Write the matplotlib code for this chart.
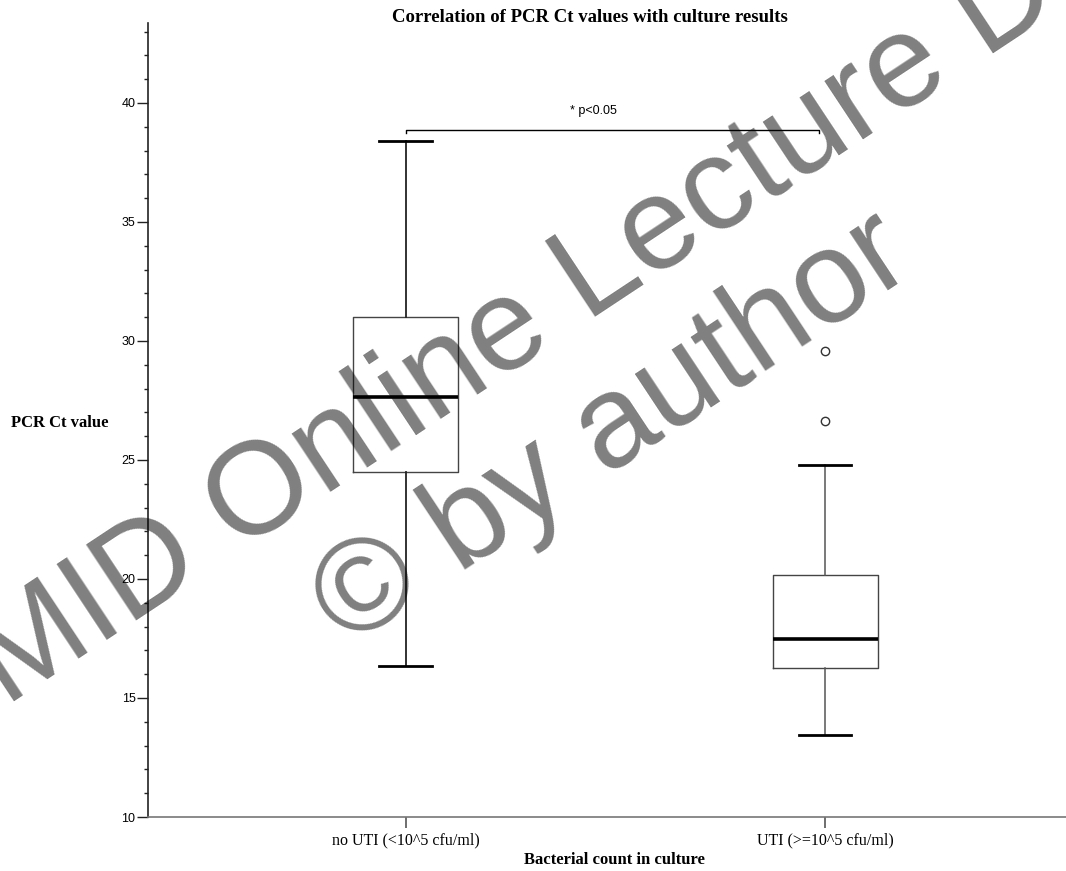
import numpy as np
import matplotlib
matplotlib.use("Agg")
import matplotlib.pyplot as plt
from matplotlib.ticker import MultipleLocator

# values
groups = ["no UTI (<10^5 cfu/ml)", "UTI (>=10^5 cfu/ml)"]
whis_lo = [16.35, 13.45]
q1 = [24.5, 16.25]
med = [27.65, 17.48]
q3 = [31.0, 20.15]
whis_hi = [38.4, 24.8]
outliers = [[], [29.6, 26.65]]
y_ticks = [10, 15, 20, 25, 30, 35, 40]

fig = plt.figure(figsize=(10.66, 8.71), dpi=100)
W, H = 1066.0, 871.0
ax = fig.add_axes([148 / W, 1 - 817 / H, 1 - 148 / W, (817 - 23) / H])

stats = []
for i in range(len(groups)):
    stats.append(dict(label=groups[i], whislo=whis_lo[i], q1=q1[i], med=med[i],
                      q3=q3[i], whishi=whis_hi[i], fliers=outliers[i]))

pos = [1, 2]
art = ax.bxp(stats, positions=pos, widths=0.25, showfliers=True,
             boxprops=dict(color="#444444", linewidth=1.0),
             medianprops=dict(color="black", linewidth=2.6),
             whiskerprops=dict(color="#222222", linewidth=1.3),
             capprops=dict(color="black", linewidth=2.0),
             flierprops=dict(marker="o", markersize=6, markerfacecolor="white",
                             markeredgecolor="#333333", markeredgewidth=1.0),
             capwidths=0.125, zorder=3)
# second group whiskers look thinner and greyer
for w in art["whiskers"][2:]:
    w.set_color("#555555")
    w.set_linewidth(1.1)

ax.set_xlim(0.386, 2.574)
ax.set_ylim(10, 43.36)
ax.set_xticks(pos)
ax.set_xticklabels(groups, family="Liberation Serif", fontsize=11.5)
ax.set_yticks(y_ticks)
ax.set_yticklabels([str(t) for t in y_ticks], family="Liberation Sans", fontsize=9)
ax.yaxis.set_minor_locator(MultipleLocator(1))
ax.tick_params(axis="y", which="major", length=8, width=1, color="#222222", pad=1)
ax.tick_params(axis="y", which="minor", length=3, width=1, color="#222222")
ax.tick_params(axis="x", which="major", length=8, width=1.2, color="#555555", pad=3)
ax.spines["top"].set_visible(False)
ax.spines["right"].set_visible(False)
ax.spines["left"].set_color("#222222")
ax.spines["bottom"].set_color("#777777")
ax.spines["left"].set_linewidth(1.2)
ax.spines["bottom"].set_linewidth(1.2)

# significance bracket
yb = 38.87
ax.plot([1, 1, 1.985, 1.985], [yb - 0.15, yb, yb, yb - 0.15], color="black",
        linewidth=1.0, zorder=3)
ax.text(1.447, yb + 0.55, "* p<0.05", ha="center", va="bottom",
        family="Liberation Sans", fontsize=9)

fig.text(590 / W, 1 - 17 / H, "Correlation of PCR Ct values with culture results",
         ha="center", va="center", family="Liberation Serif", fontweight="bold",
         fontsize=13.5)
fig.text(11 / W, 1 - 423 / H, "PCR Ct value", ha="left", va="center",
         family="Liberation Serif", fontweight="bold", fontsize=12)
fig.text(614 / W, 1 - 860 / H, "Bacterial count in culture", ha="center",
         va="center", family="Liberation Serif", fontweight="bold", fontsize=12)

# watermark
fig.text(5 / W, 1 - 707 / H, "MID Online Lecture D", rotation=33.5,
         rotation_mode="anchor", ha="left", va="baseline", fontsize=95,
         family="Liberation Sans", color="black", alpha=0.5, zorder=10)
fig.text(347 / W, 1 - 648 / H, "\u00a9 by author", rotation=33.5,
         rotation_mode="anchor", ha="left", va="baseline", fontsize=95,
         family="Liberation Sans", color="black", alpha=0.5, zorder=10)

fig.savefig("out.png", dpi=100)
